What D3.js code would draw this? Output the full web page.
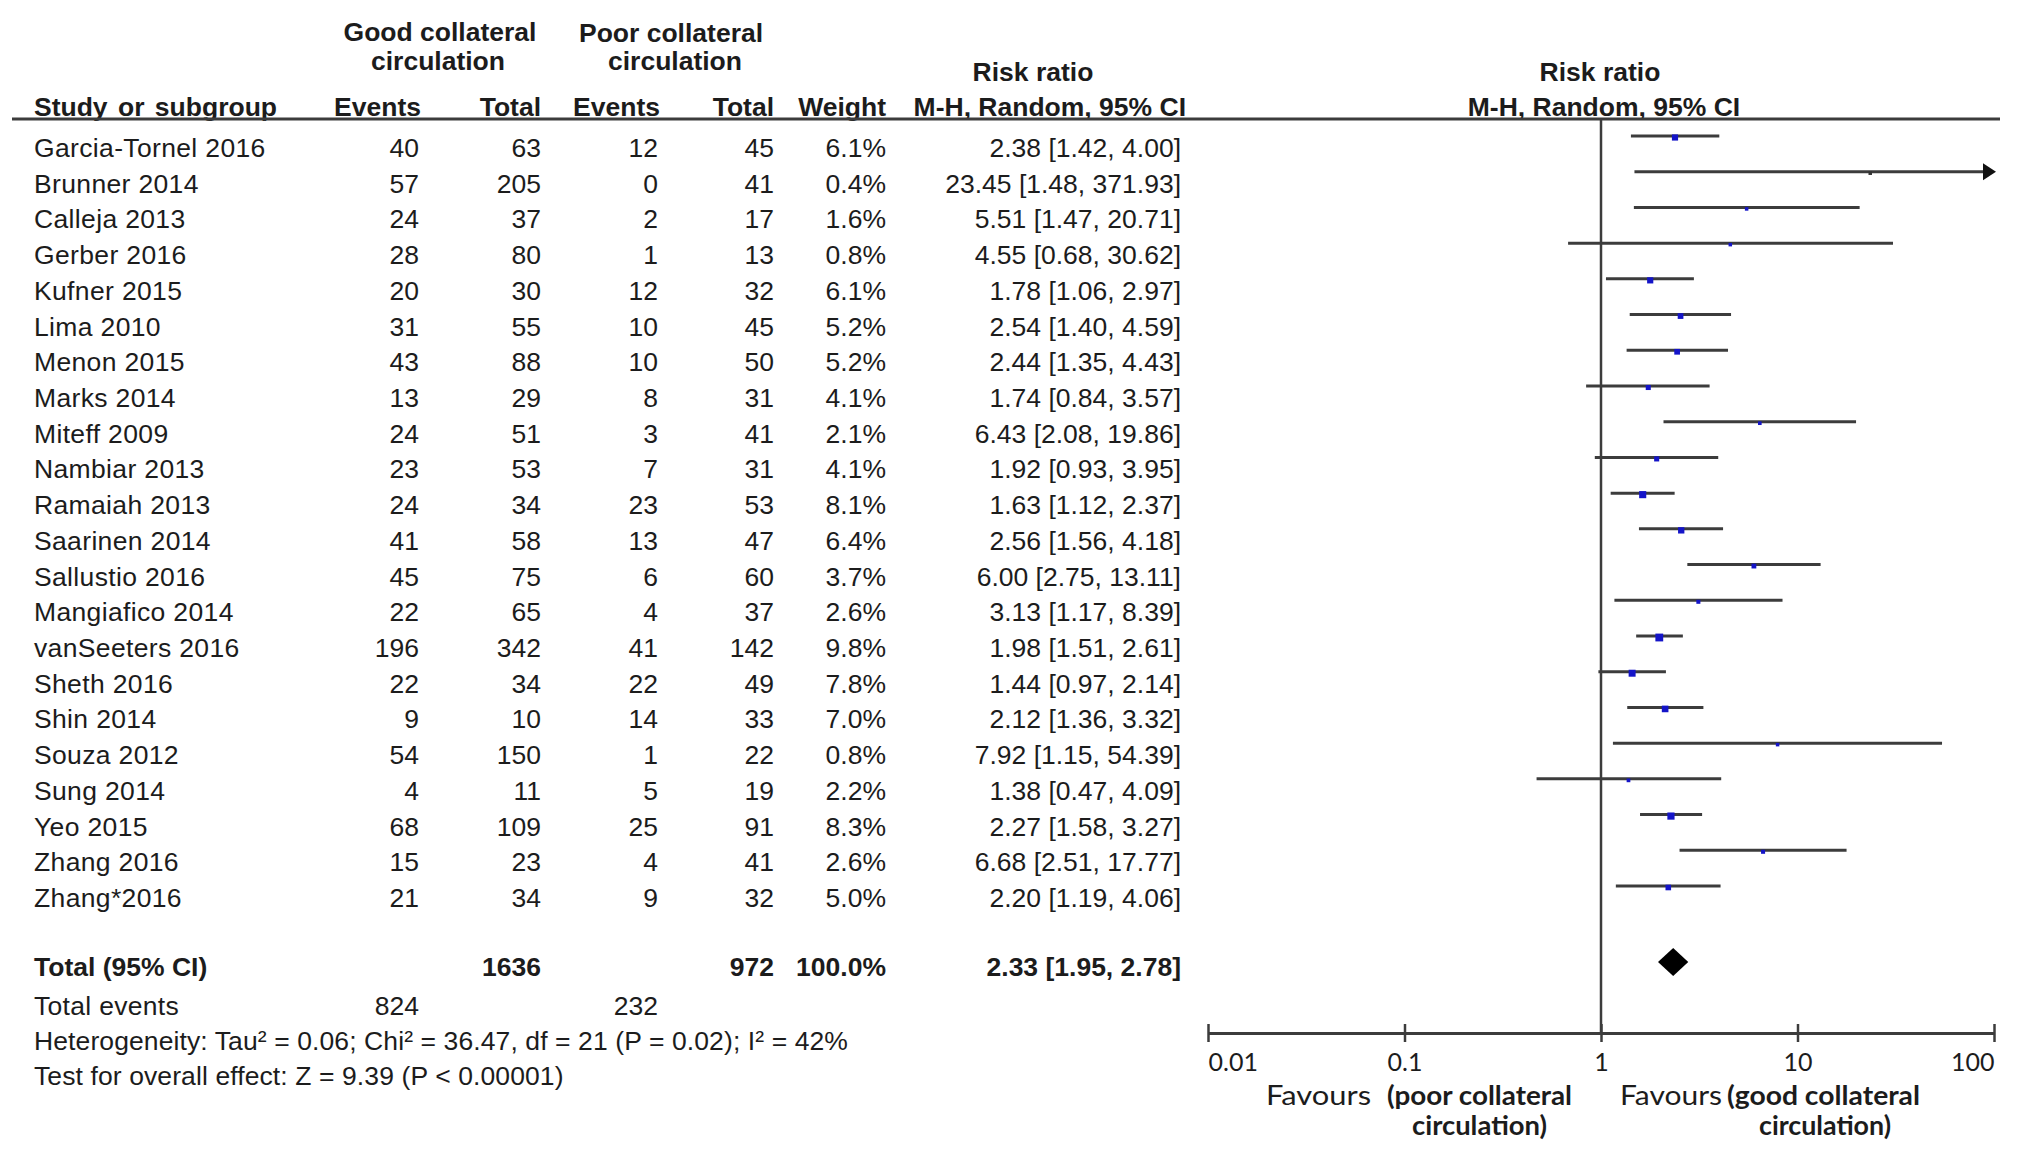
<!DOCTYPE html>
<html><head><meta charset="utf-8">
<script src="https://cdn.jsdelivr.net/npm/d3@7"></script>
<style>body{margin:0;background:#fff}svg{display:block}</style>
</head><body>
<script>
// ---- data ----
const studies = ["Garcia-Tornel 2016","Brunner 2014","Calleja 2013","Gerber 2016","Kufner 2015","Lima 2010","Menon 2015","Marks 2014","Miteff 2009","Nambiar 2013","Ramaiah 2013","Saarinen 2014","Sallustio 2016","Mangiafico 2014","vanSeeters 2016","Sheth 2016","Shin 2014","Souza 2012","Sung 2014","Yeo 2015","Zhang 2016","Zhang*2016"];
const eventsGood = [40,57,24,28,20,31,43,13,24,23,24,41,45,22,196,22,9,54,4,68,15,21];
const totalGood  = [63,205,37,80,30,55,88,29,51,53,34,58,75,65,342,34,10,150,11,109,23,34];
const eventsPoor = [12,0,2,1,12,10,10,8,3,7,23,13,6,4,41,22,14,1,5,25,4,9];
const totalPoor  = [45,41,17,13,32,45,50,31,41,31,53,47,60,37,142,49,33,22,19,91,41,32];
const weights    = [6.1,0.4,1.6,0.8,6.1,5.2,5.2,4.1,2.1,4.1,8.1,6.4,3.7,2.6,9.8,7.8,7.0,0.8,2.2,8.3,2.6,5.0];
const rr    = [2.38,23.45,5.51,4.55,1.78,2.54,2.44,1.74,6.43,1.92,1.63,2.56,6.00,3.13,1.98,1.44,2.12,7.92,1.38,2.27,6.68,2.20];
const lower = [1.42,1.48,1.47,0.68,1.06,1.40,1.35,0.84,2.08,0.93,1.12,1.56,2.75,1.17,1.51,0.97,1.36,1.15,0.47,1.58,2.51,1.19];
const upper = [4.00,371.93,20.71,30.62,2.97,4.59,4.43,3.57,19.86,3.95,2.37,4.18,13.11,8.39,2.61,2.14,3.32,54.39,4.09,3.27,17.77,4.06];
const totalRow = {label:"Total (95% CI)", totalGood:1636, totalPoor:972, weight:"100.0%", rr:2.33, lower:1.95, upper:2.78};
const totalEvents = [824, 232];
const tickValues = [0.01, 0.1, 1, 10, 100];
const tickLabels = ["0.01","0.1","1","10","100"];
const heterogeneity = "Heterogeneity: Tau\u00B2 = 0.06; Chi\u00B2 = 36.47, df = 21 (P = 0.02); I\u00B2 = 42%";
const overall = "Test for overall effect: Z = 9.39 (P < 0.00001)";

// ---- setup ----
const W = 2031, H = 1157;
const FONT = "'Liberation Sans', Arial, Helvetica, sans-serif";
const FONT2 = "Lato, 'Open Sans', sans-serif";
const TXT = "#1c1c1c", LINE = "#3c3c3c";
const svg = d3.select("body").append("svg").attr("width", W).attr("height", H);
svg.append("rect").attr("width", W).attr("height", H).attr("fill", "#fff");

const x = d3.scaleLog().domain([0.01, 100]).range([1208, 1994]);
const y = d3.scaleLinear().domain([0, studies.length - 1]).range([136, 886]);
const base = i => y(i) + 21;
const fmt2 = d3.format(".2f");
const ciText = (r, l, u) => `${fmt2(r)} [${fmt2(l)}, ${fmt2(u)}]`;

function txt(g, s, xx, yy, anchor, bold, size, font) {
  return g.append("text").attr("x", xx).attr("y", yy)
    .attr("text-anchor", anchor || "start")
    .attr("font-family", font || FONT)
    .attr("font-size", size || 26.5)
    .attr("font-weight", bold ? "bold" : "normal")
    .attr("fill", TXT).text(s);
}

// ---- headers ----
const hg = svg.append("g");
txt(hg, "Good  collateral", 440, 41, "middle", true);
txt(hg, "circulation", 438, 70, "middle", true);
txt(hg, "Poor  collateral", 671, 42, "middle", true);
txt(hg, "circulation", 675, 70, "middle", true);
txt(hg, "Risk ratio", 1033, 81, "middle", true);
txt(hg, "Risk ratio", 1600, 81, "middle", true);
txt(hg, "Study or  subgroup", 34, 116, "start", true).attr("word-spacing", 3);
const cols = [
  {h:"Events", x:421},
  {h:"Total", x:541},
  {h:"Events", x:660},
  {h:"Total", x:774},
  {h:"Weight", x:886},
  {h:"M-H, Random, 95% CI", x:1186}
];
cols.forEach(c => txt(hg, c.h, c.x, 116, "end", true));
txt(hg, "M-H, Random, 95% CI", 1604, 116, "middle", true);
hg.append("line").attr("x1", 12).attr("x2", 2000).attr("y1", 119).attr("y2", 119)
  .attr("stroke", LINE).attr("stroke-width", 3);

// ---- table rows ----
const rows = svg.append("g").selectAll("g.row").data(studies).join("g").attr("class", "row");
rows.each(function(d, i) {
  const g = d3.select(this), b = base(i);
  txt(g, d, 34, b, "start").attr("letter-spacing", 0.35);
  txt(g, eventsGood[i], 419, b, "end");
  txt(g, totalGood[i], 541, b, "end");
  txt(g, eventsPoor[i], 658, b, "end");
  txt(g, totalPoor[i], 774, b, "end");
  txt(g, weights[i].toFixed(1) + "%", 886, b, "end");
  txt(g, ciText(rr[i], lower[i], upper[i]), 1181, b, "end");
});

// totals
const tg = svg.append("g");
txt(tg, totalRow.label, 34, 976, "start", true);
txt(tg, totalRow.totalGood, 541, 976, "end", true);
txt(tg, totalRow.totalPoor, 774, 976, "end", true);
txt(tg, totalRow.weight, 886, 976, "end", true);
txt(tg, ciText(totalRow.rr, totalRow.lower, totalRow.upper), 1181, 976, "end", true);
txt(tg, "Total events", 34, 1015, "start").attr("letter-spacing", 0.3);
txt(tg, totalEvents[0], 419, 1015, "end");
txt(tg, totalEvents[1], 658, 1015, "end");
txt(tg, heterogeneity, 34, 1050, "start").attr("letter-spacing", 0.1);
txt(tg, overall, 34, 1085, "start").attr("letter-spacing", 0.1);

// ---- forest plot ----
const pg = svg.append("g");
// null line
pg.append("line").attr("x1", x(1)).attr("x2", x(1)).attr("y1", 119).attr("y2", 1033)
  .attr("stroke", LINE).attr("stroke-width", 2.5);

const xmax = x.domain()[1];
const ci = pg.selectAll("g.ci").data(studies).join("g").attr("class", "ci");
ci.each(function(d, i) {
  const g = d3.select(this), yy = y(i);
  const clipped = upper[i] > xmax;
  const xr = clipped ? x(xmax) - 8 : x(upper[i]);
  g.append("line").attr("x1", x(lower[i])).attr("x2", xr).attr("y1", yy).attr("y2", yy)
    .attr("stroke", LINE).attr("stroke-width", 3);
  if (clipped) {
    const tip = x(xmax) + 2;
    g.append("path").attr("d", `M${tip},${yy} L${tip - 13},${yy - 8.5} L${tip - 13},${yy + 8.5} Z`)
      .attr("fill", "#111");
  }
  const s = Math.max(3.5, 2.5 * Math.sqrt(weights[i]));
  g.append("rect").attr("x", x(rr[i]) - s / 2).attr("y", yy + 1.5 - s / 2)
    .attr("width", s).attr("height", s)
    .attr("fill", clipped ? "#333" : "#1414c8");
});

// diamond
const dy = 962;
pg.append("path")
  .attr("d", `M${x(totalRow.lower)},${dy} L${x(totalRow.rr)},${dy - 14} L${x(totalRow.upper)},${dy} L${x(totalRow.rr)},${dy + 14} Z`)
  .attr("fill", "#000");

// axis
const axis = d3.axisBottom(x).tickValues(tickValues).tickFormat((d, i) => tickLabels[i])
  .tickSizeInner(9).tickSizeOuter(0);
const ag = pg.append("g").attr("transform", "translate(0,1033)").call(axis);
ag.select(".domain").attr("stroke", LINE).attr("stroke-width", 3);
ag.selectAll(".tick line").attr("y1", -9).attr("y2", 9).attr("stroke", LINE).attr("stroke-width", 2.5);
ag.selectAll(".tick text").attr("y", 38).attr("dy", 0)
  .attr("font-family", FONT2).attr("font-size", 25).attr("fill", TXT)
  .attr("text-anchor", (d, i) => i === 0 ? "start" : (i === tickValues.length - 1 ? "end" : "middle"));

// favours labels
const fg = svg.append("g");
function ftxt(s, x0, x1, yy, bold) {
  txt(fg, s, x0, yy, "start", bold, 27, FONT2)
    .attr("textLength", x1 - x0).attr("lengthAdjust", "spacingAndGlyphs");
}
ftxt("Favours", 1266, 1371, 1105, false);
ftxt("(poor collateral", 1387, 1572, 1105, true);
ftxt("circulation)", 1412, 1547, 1135, true);
ftxt("Favours", 1620, 1722, 1105, false);
ftxt("(good collateral", 1727, 1920, 1105, true);
ftxt("circulation)", 1759, 1891, 1135, true);
</script>
</body></html>
